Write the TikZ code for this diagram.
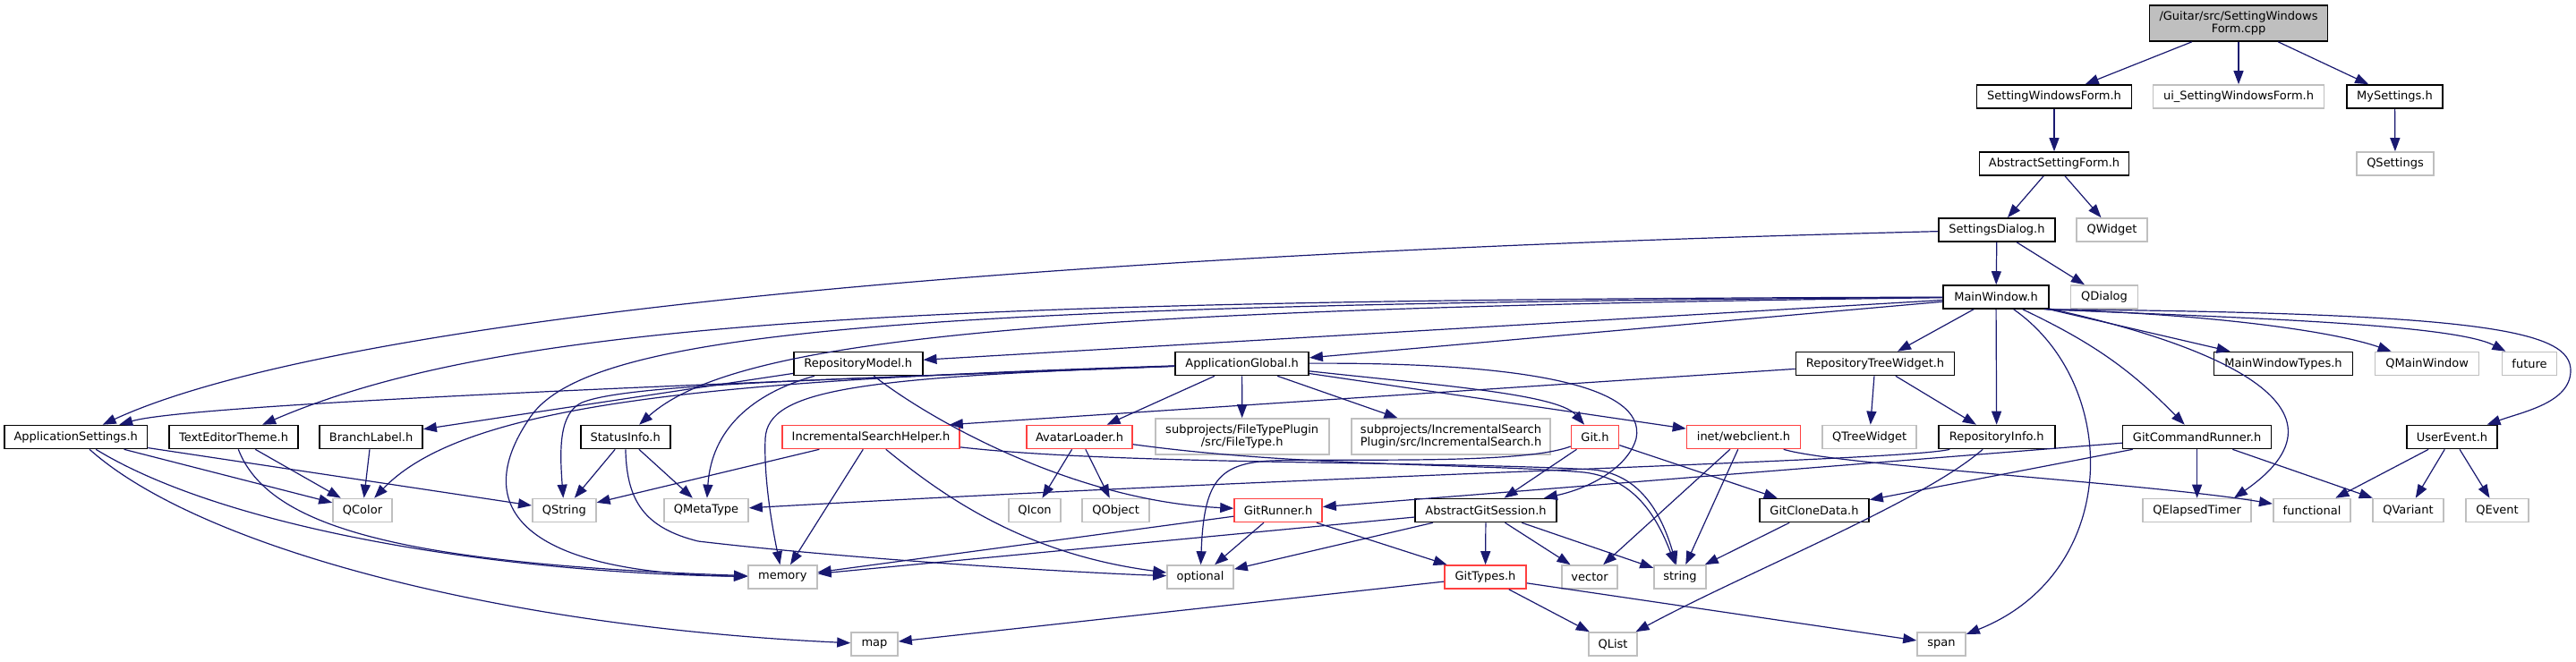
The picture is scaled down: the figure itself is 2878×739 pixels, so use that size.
\documentclass[tikz,border=0pt]{standalone}
\usepackage{fontspec}
\setmainfont{DejaVu Sans}
\usepackage{xcolor}
\usetikzlibrary{arrows.meta}
\definecolor{midnight}{RGB}{25,25,112}
\definecolor{sysgray}{RGB}{191,191,191}
\definecolor{truncred}{RGB}{255,64,64}
\tikzstyle{inc edge} = [draw=midnight, line width=0.6pt, -{Triangle[length=7.5pt,width=5.5pt]}]

\begin{document}
\begin{tikzpicture}
[x=0.5pt,y=-0.5pt,
incbox/.style={shape=rectangle, line width=0.8pt, fill=white, inner xsep=2pt, inner ysep=1pt, minimum height=13pt, align=center, font=\fontsize{6.5}{7.2}\selectfont},
hdr/.style={incbox, draw=black},
sys/.style={incbox, draw=sysgray},
trunc/.style={incbox, draw=truncred},
srcfile/.style={incbox, draw=black, fill=sysgray}]

\useasboundingbox (0,0) rectangle (2878,739);

%% nodes or vertices
\node (root) at (2501,26) [srcfile, minimum width=99.5pt, minimum height=20pt] {/Guitar/src/SettingWindows\\Form.cpp};

\foreach \nodename/\x/\y/\w/\txt in {
swform/2295/108/173/SettingWindowsForm.h, mysettings/2675.5/108/107/MySettings.h,
absform/2295/183/167/AbstractSettingForm.h, setdialog/2231/257/130/SettingsDialog.h,
mainwin/2230/332/118/MainWindow.h, repomodel/958.7/406.5/144/RepositoryModel.h,
appglobal/1387.6/406.5/149/ApplicationGlobal.h, treewidget/2095/406.5/177/RepositoryTreeWidget.h,
mwtypes/2551/406.5/155/MainWindowTypes.h, appsettings/84.7/488.5/159.5/ApplicationSettings.h,
editortheme/261/488.5/143.5/TextEditorTheme.h, branchlabel/414.6/488.5/115/BranchLabel.h,
statusinfo/698.7/488.5/100/StatusInfo.h, repoinfo/2230.7/488.5/130/RepositoryInfo.h,
cmdrunner/2454.6/488.5/166/GitCommandRunner.h, userevent/2739.5/488.5/101/UserEvent.h,
gitsession/1660/570.5/157.5/AbstractGitSession.h, clonedata/2027/570.5/122/GitCloneData.h}
{
\node (\nodename) at (\x,\y) [hdr, minimum width=\w*0.5pt] {\txt};
}

\foreach \nodename/\x/\y/\w/\txt in {
searchhelper/973/488.5/198/IncrementalSearchHelper.h, avatar/1206/488.5/118/AvatarLoader.h,
git/1782/488.5/53/Git.h, webclient/1948/488.5/127/{inet/webclient.h},
gitrunner/1428/570.5/98/GitRunner.h, gittypes/1659.5/645/91/GitTypes.h}
{
\node (\nodename) at (\x,\y) [trunc, minimum width=\w*0.5pt] {\txt};
}

\foreach \nodename/\x/\y/\w/\txt in {
uiform/2501/108/191/ui\_SettingWindowsForm.h, qsettings/2676/183/86/QSettings,
qwidget/2359.5/257/79/QWidget, qdialog/2351/332/75/QDialog,
qmainwin/2711.6/406.5/116/QMainWindow, future/2826/406.5/61/future,
qtreewidget/2088.7/488.5/105/QTreeWidget, qcolor/405/570.5/66/QColor,
qstring/630.3/570.5/71/QString, qmetatype/789/570.5/94/QMetaType,
qicon/1156/570.5/58/QIcon, qobject/1246.6/570.5/75/QObject,
qelapsed/2454.6/570.5/121/QElapsedTimer, functional/2583/570.5/86.5/functional,
qvariant/2690.5/570.5/79/QVariant, qevent/2790/570.5/70/QEvent,
memory/874.3/645/77/memory, optional/1341/645/74/optional,
vector/1776/645/62/vector, string/1877/645/58/string,
map/977/720/52/map, qlist/1802/720/54/QList, span/2169/720/54/span}
{
\node (\nodename) at (\x,\y) [sys, minimum width=\w*0.5pt] {\txt};
}

\node (filetype) at (1387.7,488) [sys, minimum width=97pt, minimum height=20pt] {subprojects/FileTypePlugin\\/src/FileType.h};
\node (incsearch) at (1621,488) [sys, minimum width=111pt, minimum height=20pt] {subprojects/IncrementalSearch\\Plugin/src/IncrementalSearch.h};

%% edges or lines
\path
\foreach \startnode/\endnode in {root/swform, root/uiform, root/mysettings, swform/absform, mysettings/qsettings,
absform/setdialog, absform/qwidget, setdialog/mainwin, setdialog/qdialog,
mainwin/repomodel, mainwin/appglobal, mainwin/treewidget, mainwin/repoinfo, mainwin/mwtypes}
{
(\startnode) edge[inc edge] (\endnode)
}

\foreach \startnode/\endnode in {repomodel/branchlabel, appglobal/avatar, appglobal/filetype, appglobal/incsearch,
appglobal/webclient, treewidget/qtreewidget, treewidget/repoinfo,
appsettings/qcolor, appsettings/qstring, editortheme/qcolor, branchlabel/qcolor,
statusinfo/qstring, statusinfo/qmetatype, searchhelper/qstring, searchhelper/memory,
avatar/qicon, avatar/qobject, git/gitsession, git/clonedata, webclient/vector, webclient/string}
{
(\startnode) edge[inc edge] (\endnode)
}

\foreach \startnode/\endnode in {cmdrunner/gitrunner, cmdrunner/clonedata, cmdrunner/qelapsed, cmdrunner/qvariant,
userevent/functional, userevent/qvariant, userevent/qevent,
gitrunner/memory, gitrunner/optional, gitrunner/gittypes,
gitsession/memory, gitsession/optional, gitsession/gittypes, gitsession/vector, gitsession/string,
clonedata/string, gittypes/map, gittypes/qlist, gittypes/span}
{
(\startnode) edge[inc edge] (\endnode)
};

% long curved includes
\draw[inc edge] (setdialog) .. controls (900,290) and (320,380) .. (appsettings);
\draw[inc edge] (mainwin) .. controls (1000,335) and (560,360) .. (editortheme);
\draw[inc edge] (mainwin) .. controls (1000,340) and (650,370) .. (590,470) .. controls (530,560) and (570,640) .. (memory);
\draw[inc edge] (mainwin) .. controls (1150,345) and (820,380) .. (statusinfo);
\draw[inc edge] (mainwin) to[bend left=10] (cmdrunner);
\draw[inc edge] (mainwin) .. controls (2370,430) and (2370,640) .. (span);
\draw[inc edge] (mainwin) .. controls (2450,380) and (2650,450) .. ([xshift=-10pt]qelapsed.north east);
\draw[inc edge] ([xshift=-3pt]mainwin.south east) .. controls (2450,350) and (2600,368) .. (qmainwin);
\draw[inc edge] ([xshift=-2pt]mainwin.south east) .. controls (2500,355) and (2740,362) .. (future);
\draw[inc edge] (mainwin.south east) .. controls (2780,350) and (2873,370) .. (2872,415) .. controls (2871,450) and (2820,460) .. (userevent);

\draw[inc edge] (repomodel) .. controls (840,440) and (795,480) .. (qmetatype);
\draw[inc edge] (repomodel) .. controls (1040,470) and (1200,560) .. (gitrunner);
\draw[inc edge] (appglobal) .. controls (900,425) and (220,450) .. (appsettings);
\draw[inc edge] (appglobal) .. controls (800,425) and (520,450) .. (qcolor);
\draw[inc edge] (appglobal) .. controls (900,425) and (700,430) .. (650,450) .. controls (625,462) and (625,500) .. (qstring);
\draw[inc edge] (appglobal) .. controls (960,422) and (858,435) .. (855,490) .. controls (853,540) and (865,600) .. (memory);
\draw[inc edge] (appglobal) .. controls (1600,430) and (1740,440) .. (git);
\draw[inc edge] (appglobal) .. controls (1700,405) and (1840,430) .. (1828,490) .. controls (1820,520) and (1780,545) .. (gitsession);
\draw[inc edge] (treewidget) -- ([xshift=-6pt]searchhelper.north east);

\draw[inc edge] (appsettings) .. controls (250,590) and (550,640) .. (memory);
\draw[inc edge] (appsettings) .. controls (220,610) and (550,700) .. (map);
\draw[inc edge] (editortheme) .. controls (300,590) and (450,630) .. (memory);
\draw[inc edge] (statusinfo) .. controls (700,560) and (720,590) .. (780,605) .. controls (950,625) and (1200,640) .. (optional);
\draw[inc edge] (searchhelper) .. controls (1060,560) and (1150,620) .. (optional);
\draw[inc edge] (searchhelper) .. controls (1250,520) and (1600,515) .. (1780,525) .. controls (1830,530) and (1855,570) .. (string);
\draw[inc edge] (avatar) .. controls (1450,522) and (1650,518) .. (1770,528) .. controls (1825,535) and (1850,575) .. (string);
\draw[inc edge] (git) .. controls (1700,520) and (1500,512) .. (1420,515) .. controls (1360,518) and (1345,540) .. (optional);
\draw[inc edge] (webclient) .. controls (2050,520) and (2400,540) .. (functional);
\draw[inc edge] (repoinfo) .. controls (2130,515) and (1500,530) .. (qmetatype);
\draw[inc edge] (repoinfo) .. controls (2150,560) and (1950,640) .. (qlist);

\end{tikzpicture}
\end{document}
